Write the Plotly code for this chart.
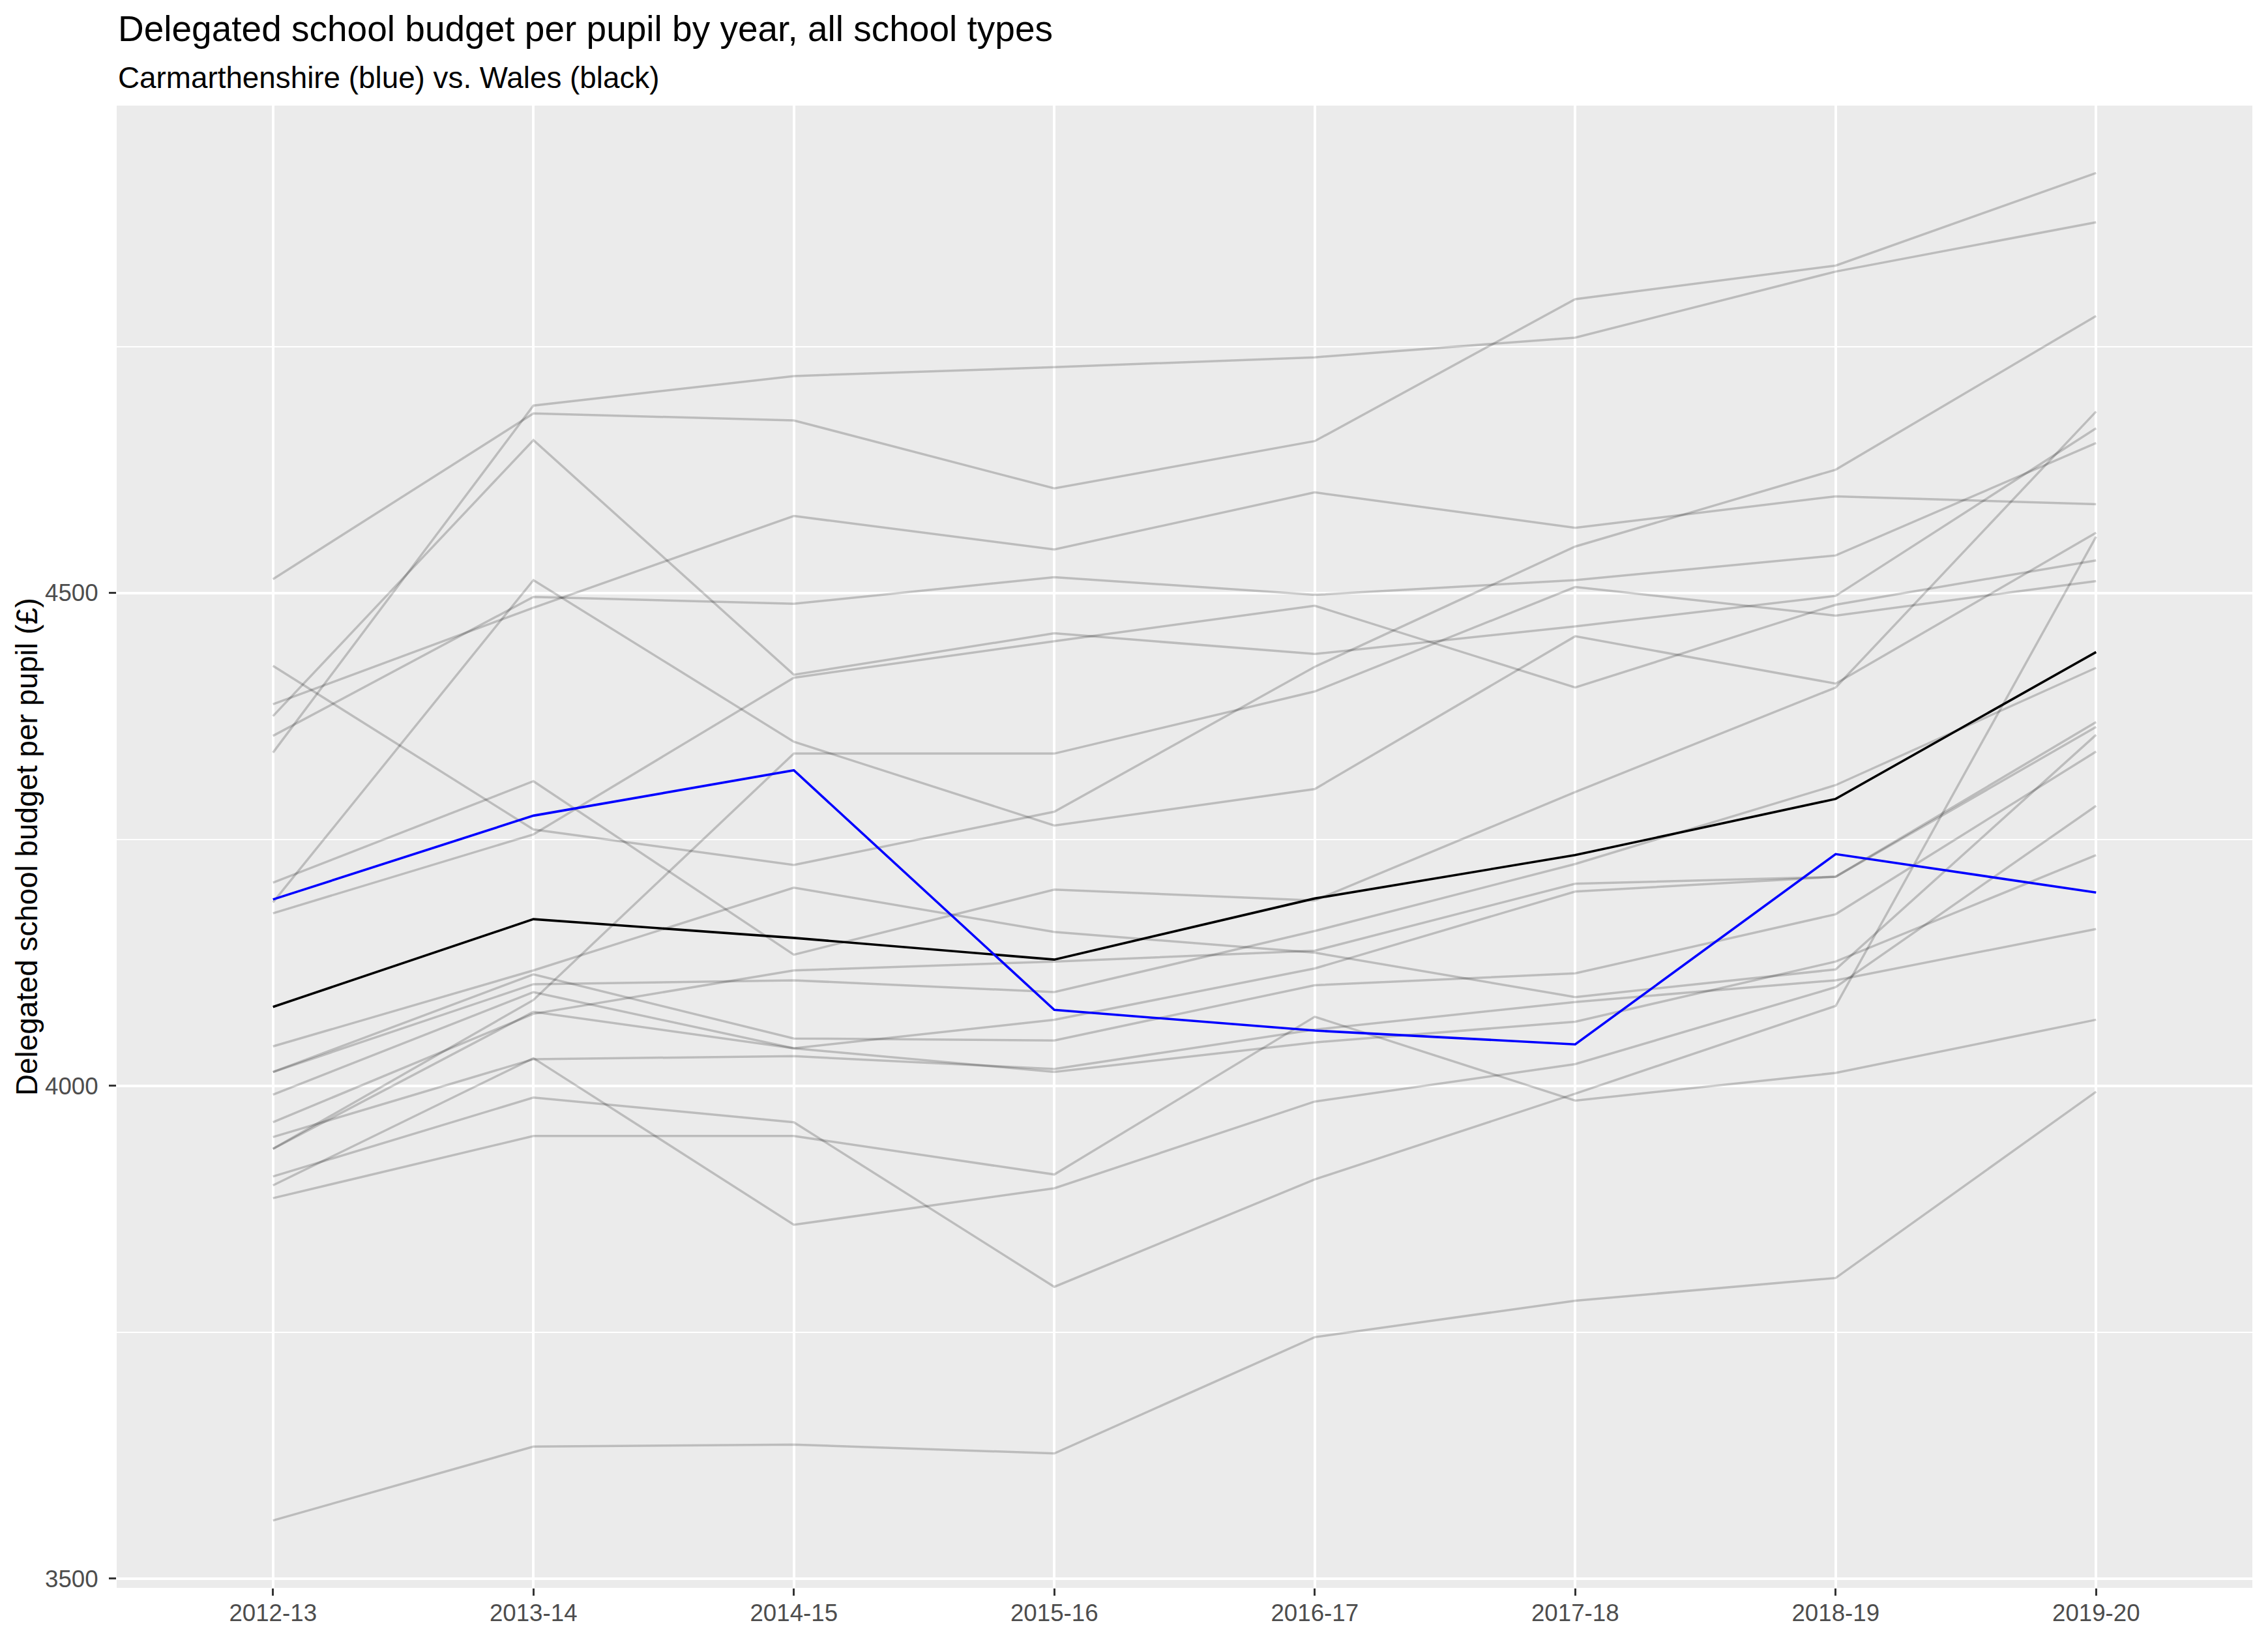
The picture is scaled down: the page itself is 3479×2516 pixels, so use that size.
import plotly.graph_objects as go

years = ["2012-13", "2013-14", "2014-15", "2015-16", "2016-17", "2017-18", "2018-19", "2019-20"]

# Other Welsh local authorities (grey)
la_01 = [4338, 4690, 4720, 4729, 4739, 4759, 4826, 4876]
la_02 = [4514, 4682, 4675, 4606, 4654, 4798, 4832, 4926]
la_03 = [4375, 4655, 4417, 4459, 4438, 4466, 4497, 4667]
la_04 = [4387, 4485, 4578, 4544, 4602, 4566, 4598, 4590]
la_05 = [4355, 4496, 4489, 4516, 4498, 4513, 4538, 4652]
la_06 = [4186, 4513, 4349, 4264, 4301, 4456, 4408, 4561]
la_07 = [4426, 4260, 4224, 4278, 4425, 4547, 4625, 4781]
la_08 = [4175, 4255, 4414, 4451, 4487, 4404, 4488, 4533]
la_09 = [4206, 4309, 4133, 4199, 4188, 4298, 4404, 4684]
la_10 = [4040, 4117, 4201, 4156, 4135, 4090, 4118, 4356]
la_11 = [4014, 4113, 4048, 4046, 4102, 4114, 4174, 4339]
la_12 = [4014, 4103, 4107, 4095, 4157, 4225, 4305, 4424]
la_13 = [3991, 4095, 4038, 4014, 4044, 4065, 4126, 4234]
la_14 = [3963, 4073, 4117, 4126, 4137, 4205, 4212, 4369]
la_15 = [3948, 4027, 4030, 4017, 4057, 4085, 4107, 4159]
la_16 = [3936, 4087, 4337, 4337, 4400, 4506, 4477, 4512]
la_17 = [3936, 4075, 4038, 4067, 4119, 4197, 4212, 4364]
la_18 = [3908, 3988, 3963, 3796, 3905, 3992, 4081, 4557]
la_19 = [3899, 4028, 3859, 3896, 3984, 4022, 4100, 4284]
la_20 = [3886, 3949, 3949, 3910, 4070, 3985, 4013, 4067]
la_21 = [3559, 3634, 3636, 3627, 3745, 3782, 3805, 3994]

carmarthenshire = [4189, 4274, 4320, 4077, 4056, 4042, 4235, 4196]
wales = [4080, 4169, 4150, 4128, 4190, 4234, 4291, 4440]

y_ticks = [3500, 4000, 4500]

others = [la_01, la_02, la_03, la_04, la_05, la_06, la_07, la_08, la_09, la_10,
          la_11, la_12, la_13, la_14, la_15, la_16, la_17, la_18, la_19, la_20, la_21]

FONT = "Liberation Sans, Arial, Helvetica, sans-serif"
W, H = 3479, 2516
ML, MR, MT, MB = 179, 24, 162, 80
PW, PH = W - ML - MR, H - MT - MB

fig = go.Figure()
for vals in others:
    fig.add_trace(go.Scatter(x=years, y=vals, mode="lines",
                             line=dict(color="rgba(0,0,0,0.2)", width=3.5),
                             showlegend=False, hoverinfo="skip"))
fig.add_trace(go.Scatter(x=years, y=wales, mode="lines",
                         line=dict(color="black", width=3.6), showlegend=False))
fig.add_trace(go.Scatter(x=years, y=carmarthenshire, mode="lines",
                         line=dict(color="#0000FF", width=3.6), showlegend=False))

all_vals = [v for s in others + [carmarthenshire, wales] for v in s]
lo, hi = min(all_vals), max(all_vals)
pad = 0.05 * (hi - lo)

fig.update_layout(
    width=W, height=H,
    margin=dict(l=ML, r=MR, t=MT, b=MB, pad=0),
    paper_bgcolor="white", plot_bgcolor="#EBEBEB",
    font=dict(family=FONT, color="black"),
    showlegend=False,
    xaxis=dict(type="category", categoryorder="array", categoryarray=years,
               range=[-0.6, len(years) - 1 + 0.6],
               showgrid=True, gridcolor="white", gridwidth=3.5,
               zeroline=False, showline=False,
               ticks="outside", ticklen=11, tickwidth=2.5, tickcolor="#333333",
               tickfont=dict(size=36.7, color="#4D4D4D", family=FONT),
               ticklabelstandoff=-5),
    yaxis=dict(range=[lo - pad, hi + pad],
               tickvals=y_ticks, ticktext=[str(v) for v in y_ticks],
               showgrid=True, gridcolor="white", gridwidth=3.5,
               minor=dict(dtick=250, tick0=3500, showgrid=True, gridcolor="white", gridwidth=1.8, ticks=""),
               zeroline=False, showline=False,
               ticks="outside", ticklen=11, tickwidth=2.5, tickcolor="#333333",
               tickfont=dict(size=36.7, color="#4D4D4D", family=FONT),
               ticklabelstandoff=9),
    annotations=[
        dict(text="Delegated school budget per pupil by year, all school types",
             xref="paper", yref="paper", x=0, y=1 + (MT - 44) / PH,
             xanchor="left", yanchor="middle", showarrow=False,
             font=dict(size=55, color="black", family=FONT)),
        dict(text="Carmarthenshire (blue) vs. Wales (black)",
             xref="paper", yref="paper", x=0, y=1 + (MT - 119) / PH,
             xanchor="left", yanchor="middle", showarrow=False,
             font=dict(size=45.8, color="black", family=FONT)),
        dict(text="Delegated school budget per pupil (£)",
             xref="paper", yref="paper", x=(41 - ML) / PW, y=0.5,
             xanchor="center", yanchor="middle", textangle=-90, showarrow=False,
             font=dict(size=45.8, color="black", family=FONT)),
    ],
)

fig.write_html("out.html", config={"displayModeBar": False},
               post_script="document.body.style.margin='0';document.body.style.overflow='hidden';")
